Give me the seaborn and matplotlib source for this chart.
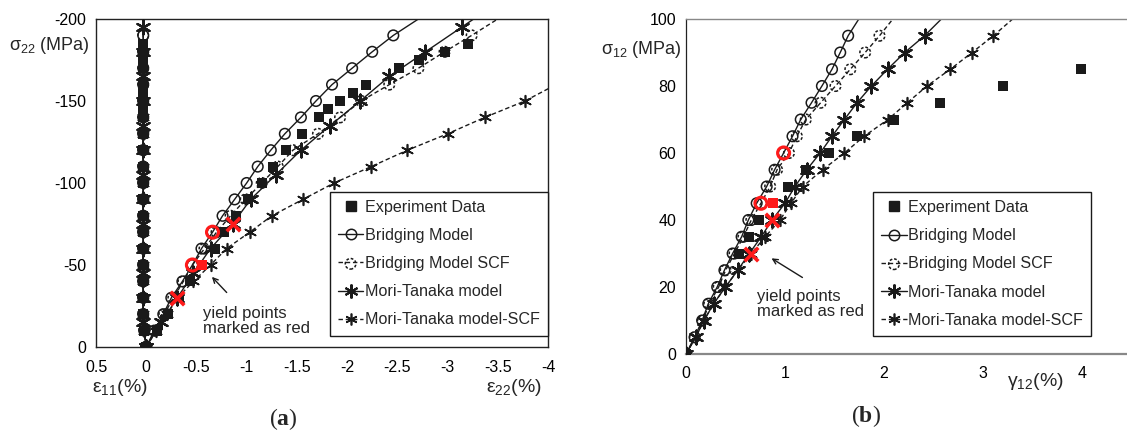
import matplotlib
matplotlib.use("Agg")
import matplotlib.pyplot as plt
import seaborn as sns
from matplotlib.lines import Line2D
from matplotlib.legend_handler import HandlerTuple

# ---------------- Panel (a): transverse compression ----------------
exp_stress_a = [0, -10, -20, -30, -40, -50, -60, -70, -80, -90, -100, -110, -120, -130,
                -140, -145, -150, -155, -160, -170, -175, -180, -185]
exp_e22_a = [0, -0.11, -0.22, -0.33, -0.44, -0.56, -0.68, -0.77, -0.89, -1.01, -1.15, -1.26,
             -1.39, -1.55, -1.72, -1.81, -1.93, -2.06, -2.19, -2.52, -2.72, -2.97, -3.20]
exp_e11_a = [0, 0.02, 0.03, 0.03, 0.03, 0.03, 0.03, 0.03, 0.03, 0.03, 0.03, 0.03, 0.03, 0.03,
             0.03, 0.03, 0.03, 0.03, 0.03, 0.03, 0.03, 0.03, 0.03]
exp_yield_a = (-0.56, -50)

bri_stress_a = [0, -10, -20, -30, -40, -50, -60, -70, -80, -90, -100, -110, -120, -130, -140,
                -150, -160, -170, -180, -190, -200]
bri_e22_a = [0, -0.08, -0.17, -0.25, -0.36, -0.46, -0.55, -0.66, -0.76, -0.88, -1.00, -1.11,
             -1.24, -1.38, -1.54, -1.69, -1.85, -2.05, -2.25, -2.46, -2.71]
bri_e11_a = [0, 0.02, 0.03, 0.03, 0.03, 0.03, 0.03, 0.03, 0.03, 0.03, 0.03, 0.03, 0.03, 0.03,
             0.03, 0.03, 0.03, 0.03, 0.03, 0.03]
bri_yield_a = (-0.66, -70)

scf_stress_a = [0, -10, -20, -30, -40, -50, -60, -70, -80, -90, -100, -110, -120, -130, -140,
                -150, -160, -170, -180, -190, -200]
scf_e22_a = [0, -0.09, -0.18, -0.27, -0.37, -0.46, -0.58, -0.70, -0.84, -0.99, -1.15, -1.31,
             -1.46, -1.71, -1.93, -2.14, -2.42, -2.71, -2.97, -3.24, -3.50]
scf_e11_a = [0, 0.02, 0.03, 0.03, 0.03, 0.03, 0.03, 0.03, 0.03, 0.03, 0.03, 0.03, 0.03, 0.03,
             0.03, 0.03, 0.03, 0.03, 0.03, 0.03]
scf_yield_a = (-0.46, -50)

mt_stress_a = [0, -15, -30, -45, -60, -75, -90, -105, -120, -135, -150, -165, -180, -195, -200]
mt_e22_a = [0, -0.15, -0.31, -0.47, -0.64, -0.86, -1.04, -1.29, -1.54, -1.83, -2.13, -2.42,
            -2.78, -3.14, -3.26]
mt_e11_a = [0, 0.03, 0.03, 0.03, 0.03, 0.03, 0.03, 0.03, 0.03, 0.03, 0.03, 0.03, 0.03, 0.03]
mt_yield_a = (-0.86, -75)

mts_stress_a = [0, -10, -20, -30, -40, -50, -60, -70, -80, -90, -100, -110, -120, -130, -140,
                -150, -160]
mts_e22_a = [0, -0.10, -0.21, -0.31, -0.47, -0.64, -0.80, -1.03, -1.25, -1.56, -1.87, -2.24,
             -2.60, -3.00, -3.37, -3.77, -4.08]
mts_e11_a = [0, 0.02, 0.03, 0.03, 0.03, 0.03, 0.03, 0.03, 0.03, 0.03, 0.03, 0.03, 0.03, 0.03,
             0.03, 0.03]
mts_yield_a = (-0.31, -30)

a_xticks = [0.5, 0, -0.5, -1, -1.5, -2, -2.5, -3, -3.5, -4]
a_xticklabels = ["0.5", "0", "-0.5", "-1", "-1.5", "-2", "-2.5", "-3", "-3.5", "-4"]
a_yticks = [0, -50, -100, -150, -200]
a_yticklabels = ["0", "-50", "-100", "-150", "-200"]

# ---------------- Panel (b): in-plane shear ----------------
exp_stress_b = [0, 30, 35, 40, 45, 50, 55, 60, 65, 70, 75, 80, 85]
exp_g12_b = [0, 0.54, 0.64, 0.74, 0.88, 1.03, 1.21, 1.44, 1.73, 2.10, 2.57, 3.20, 3.99]
exp_yield_b = (0.88, 45)

bri_stress_b = [0, 5, 10, 15, 20, 25, 30, 35, 40, 45, 50, 55, 60, 65, 70, 75, 80, 85, 90, 95, 100]
bri_g12_b = [0, 0.087, 0.163, 0.225, 0.315, 0.388, 0.471, 0.562, 0.630, 0.714, 0.815, 0.895,
             0.986, 1.076, 1.159, 1.268, 1.373, 1.475, 1.558, 1.638, 1.746]
bri_yield_b = (0.986, 60)

scf_stress_b = [0, 5, 10, 15, 20, 25, 30, 35, 40, 45, 50, 55, 60, 65, 70, 75, 80, 85, 90, 95, 100]
scf_g12_b = [0, 0.09, 0.17, 0.235, 0.33, 0.40, 0.49, 0.58, 0.66, 0.757, 0.85, 0.92, 1.04, 1.12,
             1.21, 1.36, 1.51, 1.66, 1.81, 1.955, 2.09]
scf_yield_b = (0.757, 45)

mt_stress_b = [0, 5, 10, 15, 20, 25, 30, 35, 40, 45, 50, 55, 60, 65, 70, 75, 80, 85, 90, 95, 100]
mt_g12_b = [0, 0.098, 0.181, 0.279, 0.399, 0.522, 0.64, 0.76, 0.87, 1.00, 1.10, 1.22, 1.355,
            1.475, 1.60, 1.728, 1.873, 2.036, 2.21, 2.41, 2.58]
mt_yield_b = (0.87, 40)

mts_stress_b = [0, 5, 10, 15, 20, 25, 30, 35, 40, 45, 50, 55, 60, 65, 70, 75, 80, 85, 90, 95, 100]
mts_g12_b = [0, 0.098, 0.181, 0.279, 0.399, 0.522, 0.66, 0.80, 0.95, 1.06, 1.18, 1.38, 1.60,
             1.80, 2.04, 2.235, 2.435, 2.67, 2.89, 3.105, 3.30]
mts_yield_b = (0.66, 30)

b_xticks = [0, 1, 2, 3, 4]
b_xticklabels = ["0", "1", "2", "3", "4"]
b_yticks = [0, 20, 40, 60, 80, 100]
b_yticklabels = ["0", "20", "40", "60", "80", "100"]

legend_labels = ["Experiment Data", "Bridging Model", "Bridging Model SCF",
                 "Mori-Tanaka model", "Mori-Tanaka model-SCF"]

# ---------------- styling ----------------
sns.set_theme(style="white")
plt.rcParams["font.family"] = ["Liberation Sans", "DejaVu Sans"]
plt.rcParams["mathtext.fontset"] = "custom"
plt.rcParams["mathtext.rm"] = "Liberation Sans"
plt.rcParams["mathtext.it"] = "Liberation Sans:italic"
plt.rcParams["mathtext.bf"] = "Liberation Serif:bold"

W, H = 1127, 437
fig = plt.figure(figsize=(W / 100, H / 100), dpi=100)
fig.patch.set_facecolor("white")

DASH = (0, (3.2, 2.0))
AST = (6, 2, 0)
MK = {
    "sq": dict(marker="s", s=52, color="k", linewidth=0),
    "o": dict(marker="o", s=58, facecolors="none", edgecolors="k", linewidths=1.1),
    "od": dict(marker="o", s=58, facecolors="none", edgecolors="k", linewidths=1.1,
               linestyles=[(0, (1.8, 1.2))]),
    "ast": dict(marker=AST, s=100, color="k", linewidths=1.6),
    "ast_s": dict(marker=AST, s=70, color="k", linewidths=1.2),
}
RED = {
    "sq": dict(marker="s", s=58, color="#ff1a1a", linewidth=0),
    "o": dict(marker="o", s=75, facecolors="none", edgecolors="#ff1a1a", linewidths=2.2),
    "od": dict(marker="o", s=75, facecolors="none", edgecolors="#ff1a1a", linewidths=2.2),
    "ast": dict(marker="x", s=95, color="#ff1a1a", linewidths=2.6),
    "ast_s": dict(marker="x", s=95, color="#ff1a1a", linewidths=2.6),
}


def curve(ax, x, y, ls, mk, n=None, line=True):
    if line and ls is not None:
        sns.lineplot(x=x, y=y, ax=ax, color="k", lw=1.0, linestyle=ls,
                     sort=False, estimator=None, zorder=2)
    n = len(x) if n is None else n
    sns.scatterplot(x=x[:n], y=y[:n], ax=ax, zorder=3, **MK[mk])
    return ax.collections[-1]


def yield_pt(ax, pt, mk):
    sns.scatterplot(x=[pt[0]], y=[pt[1]], ax=ax, zorder=4, **RED[mk])


def style_axes(ax, xticks, xlabels, yticks, ylabels, xlim, ylim):
    ax.set_xlim(*xlim)
    ax.set_ylim(*ylim)
    ax.set_xticks(xticks)
    ax.set_xticklabels(xlabels)
    ax.set_yticks(yticks)
    ax.set_yticklabels(ylabels)
    ax.set_xlabel("")
    ax.set_ylabel("")
    ax.tick_params(direction="in", length=3, width=0.8, color="#333333",
                   labelsize=11.5, labelcolor="black")
    ax.tick_params(axis="x", pad=9)
    ax.tick_params(axis="y", pad=7)
    ax.grid(False)


def make_legend(ax, scf_coll, loc, anchor):
    h_exp = Line2D([], [], ls="none", marker="s", color="k", ms=6.5)
    h_bri = Line2D([], [], ls="-", lw=1, color="k", marker="o", mfc="none", mec="k", ms=7.5,
                   mew=1.1)
    h_scf = (Line2D([], [], ls=DASH, lw=1, color="k"), scf_coll)
    h_mt = Line2D([], [], ls="-", lw=1, color="k", marker=AST, ms=10, mew=1.5)
    h_mts = Line2D([], [], ls=DASH, lw=1, color="k", marker=AST, ms=8.5, mew=1.2)
    leg = ax.legend([h_exp, h_bri, h_scf, h_mt, h_mts], legend_labels,
                    handler_map={tuple: HandlerTuple(ndivide=1)},
                    loc=loc, bbox_to_anchor=anchor, borderaxespad=0,
                    frameon=True, fancybox=False, edgecolor="k", framealpha=1,
                    fontsize=11.6, handlelength=1.6, handletextpad=0.1,
                    labelspacing=0.82, borderpad=0.5, scatterpoints=1)
    leg.get_frame().set_linewidth(1.0)
    return leg


# ---------------- Panel (a) ----------------
axA = fig.add_axes([96 / W, 1 - 347 / H, (548 - 96) / W, (347 - 19) / H])
# epsilon_11 column
curve(axA, exp_e11_a, exp_stress_a, "-", "sq")
curve(axA, bri_e11_a, bri_stress_a[:-1], "-", "o")
curve(axA, scf_e11_a, scf_stress_a[:-1], DASH, "od")
curve(axA, mt_e11_a, mt_stress_a[:-1], "-", "ast")
curve(axA, mts_e11_a, mts_stress_a[:-1], DASH, "ast_s")
# epsilon_22 curves
curve(axA, exp_e22_a, exp_stress_a, None, "sq")
curve(axA, bri_e22_a, bri_stress_a, "-", "o", n=len(bri_e22_a) - 1)
scfA = curve(axA, scf_e22_a, scf_stress_a, DASH, "od", n=len(scf_e22_a) - 1)
curve(axA, mt_e22_a, mt_stress_a, "-", "ast", n=len(mt_e22_a) - 1)
curve(axA, mts_e22_a, mts_stress_a, DASH, "ast_s", n=len(mts_e22_a) - 1)
for pt, mk in [(exp_yield_a, "sq"), (bri_yield_a, "o"), (scf_yield_a, "od"),
               (mt_yield_a, "ast"), (mts_yield_a, "ast_s")]:
    yield_pt(axA, pt, mk)
style_axes(axA, a_xticks, a_xticklabels, a_yticks, a_yticklabels, (0.5, -4), (0, -200))
for s in axA.spines.values():
    s.set_color("#222222")
    s.set_linewidth(1.0)
axA.annotate("", xy=(-0.635, -44), xytext=(-0.82, -32),
             arrowprops=dict(arrowstyle="->", lw=1.0, color="k", mutation_scale=9))
axA.text(-0.57, -16, "yield points\nmarked as red", fontsize=12, ha="left", va="center",
         linespacing=1.0)
make_legend(axA, scfA, "lower right", (1.0, 0.035))

fig.text(90 / W, 1 - 45 / H, "σ$_{22}$ (MPa)", fontsize=13, ha="right", va="center")
fig.text(120 / W, 1 - 388 / H, "ε$_{11}$(%)", fontsize=14, ha="center", va="center")
fig.text(514 / W, 1 - 388 / H, "ε$_{22}$(%)", fontsize=14, ha="center", va="center")
fig.text(283 / W, 1 - 419 / H, r"($\mathbf{a}$)", fontsize=17, ha="center", va="center",
         family="Liberation Serif")

# ---------------- Panel (b) ----------------
axB = fig.add_axes([686 / W, 1 - 354 / H, (1127 - 686) / W, (354 - 19) / H])
curve(axB, exp_g12_b, exp_stress_b, None, "sq")
curve(axB, bri_g12_b, bri_stress_b, "-", "o", n=len(bri_g12_b) - 1)
scfB = curve(axB, scf_g12_b, scf_stress_b, DASH, "od", n=len(scf_g12_b) - 1)
curve(axB, mt_g12_b, mt_stress_b, "-", "ast", n=len(mt_g12_b) - 1)
curve(axB, mts_g12_b, mts_stress_b, DASH, "ast_s", n=len(mts_g12_b) - 1)
for pt, mk in [(exp_yield_b, "sq"), (bri_yield_b, "o"), (scf_yield_b, "od"),
               (mt_yield_b, "ast"), (mts_yield_b, "ast_s")]:
    yield_pt(axB, pt, mk)
style_axes(axB, b_xticks, b_xticklabels, b_yticks, b_yticklabels, (0, 4.455), (0, 100))
axB.spines["right"].set_visible(False)
axB.spines["left"].set_color("#222222")
axB.spines["left"].set_linewidth(0.9)
axB.spines["top"].set_color("#888888")
axB.spines["top"].set_linewidth(1.0)
axB.spines["bottom"].set_color("#888888")
axB.spines["bottom"].set_linewidth(1.6)
axB.annotate("", xy=(0.84, 29), xytext=(1.2, 22.4),
             arrowprops=dict(arrowstyle="->", lw=1.0, color="k", mutation_scale=9))
axB.text(0.72, 15, "yield points\nmarked as red", fontsize=12, ha="left", va="center",
         linespacing=1.0)
make_legend(axB, scfB, "lower left", (0.424, 0.054))

fig.text(682 / W, 1 - 50 / H, "σ$_{12}$ (MPa)", fontsize=13, ha="right", va="center")
fig.text(1035 / W, 1 - 381 / H, "γ$_{12}$(%)", fontsize=14, ha="center", va="center")
fig.text(866 / W, 1 - 416 / H, r"($\mathbf{b}$)", fontsize=17, ha="center", va="center",
         family="Liberation Serif")

fig.savefig("out.png", dpi=100, facecolor="white")
